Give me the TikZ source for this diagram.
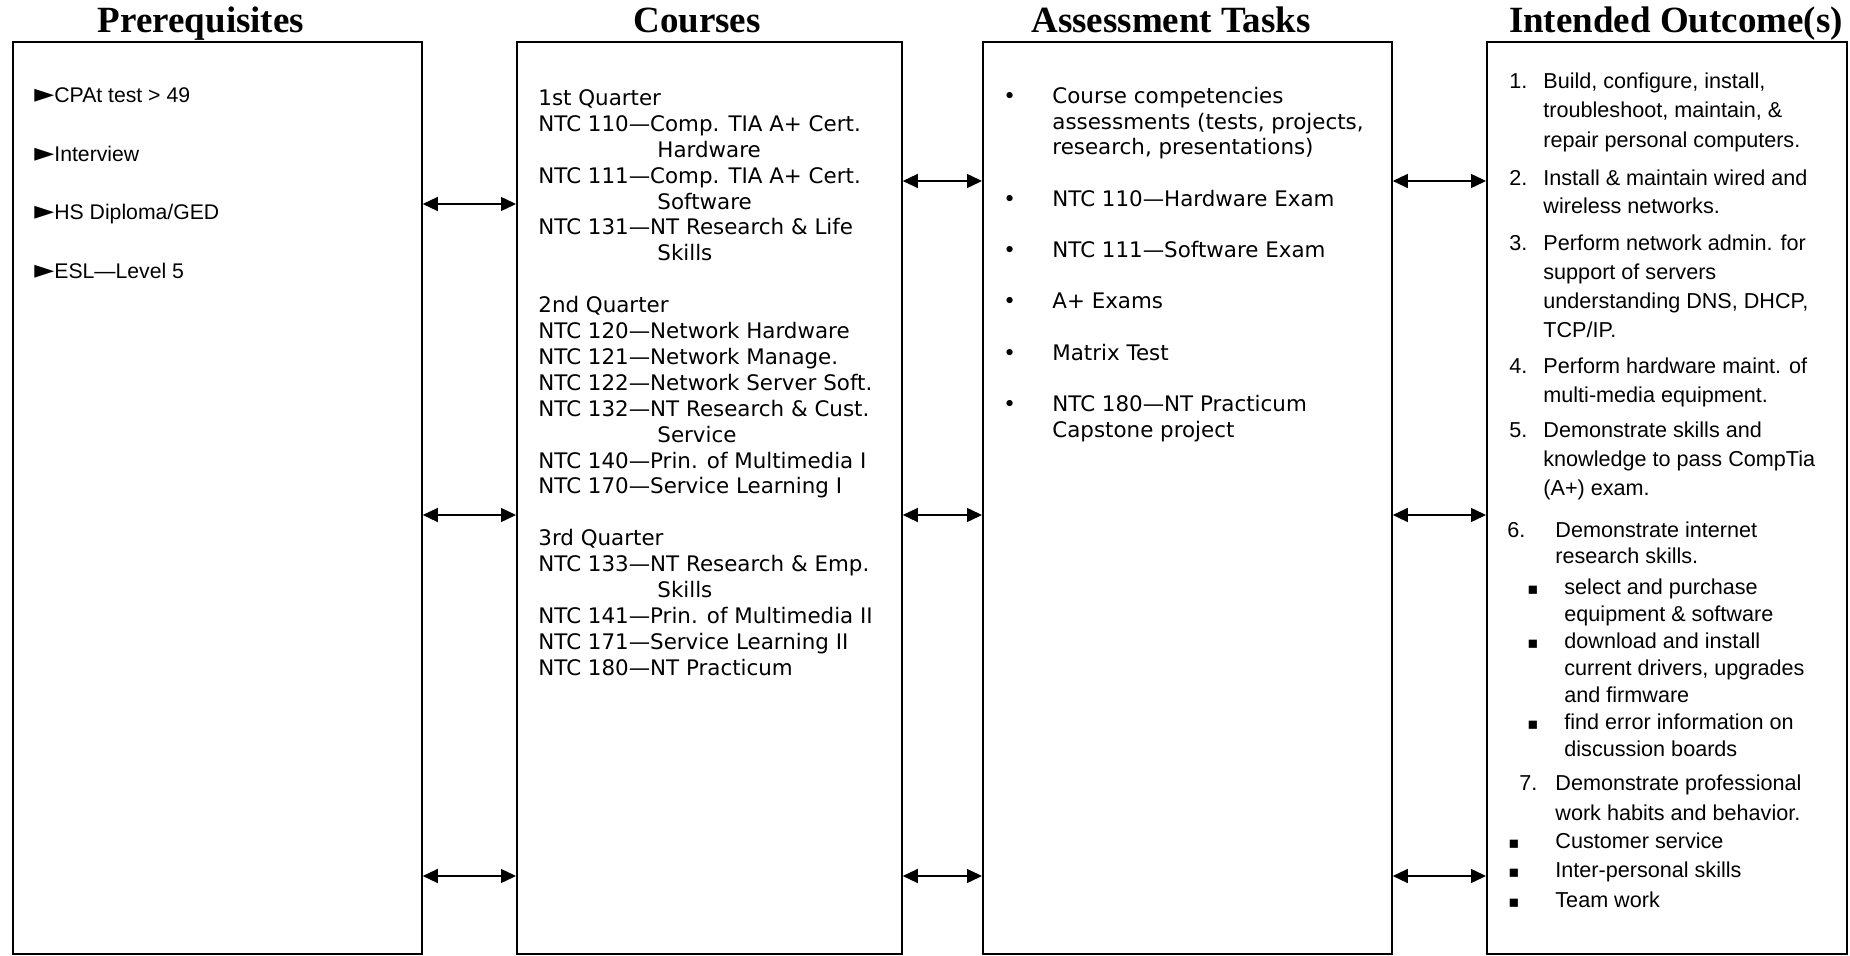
\documentclass[tikz,border=0pt]{standalone}
\usepackage{fontspec}
\setmainfont{Liberation Serif}
\newfontfamily\listfont{Liberation Sans}
\newfontfamily\coursefont{DejaVu Sans}
\usetikzlibrary{arrows.meta}

\newcommand\fl{\rule{0pt}{10pt}}
\newcommand\ind[1]{\hspace*{#1}}
\newcommand\outfont[1]{\listfont\fontsize{10.8}{#1}\selectfont}
\newcommand\pt{{\coursefont\fontsize{13}{13}\selectfont ►}}
\newcommand\sq{{\coursefont\fontsize{8.2}{8.2}\selectfont ▪}}

\tikzset{
  box/.style={draw, line width=0.9pt, inner sep=0pt, anchor=north west},
  title/.style={anchor=base, font=\fontsize{18.5}{22}\selectfont\bfseries},
  txt/.style={anchor=north west, inner sep=0pt, align=left},
  link/.style={{Triangle[length=7.5pt,width=7pt]}-{Triangle[length=7.5pt,width=7pt]}, line width=0.7pt}
}

\begin{document}
\begin{tikzpicture}[x=0.5pt,y=-0.5pt]
  \useasboundingbox (0,0) rectangle (1850,956);
  % columns
  \node[box, minimum width=204.5pt, minimum height=456pt] (pre) at (12,41) {};
  \node[box, minimum width=192.5pt, minimum height=456pt] (crs) at (516,41) {};
  \node[box, minimum width=204.5pt, minimum height=456pt] (ass) at (982,41) {};
  \node[box, minimum width=180pt, minimum height=456pt] (out) at (1486,41) {};

  \node[title] (tpre) at (201,33) {Prerequisites};
  \node[title] (tcrs) at (697,33) {Courses};
  \node[title] (tass) at (1171,33) {Assessment Tasks};
  \node[title] (tout) at (1676,33) {Intended Outcome(s)};

  % arrows between the columns
  \draw[link] (pre.east |- 0,204) -- (crs.west |- 0,204);
  \draw[link] (crs.east |- 0,181) -- (ass.west |- 0,181);
  \draw[link] (ass.east |- 0,181) -- (out.west |- 0,181);
  \foreach \y in {515,876} {
    \draw[link] (pre.east |- 0,\y) -- (crs.west |- 0,\y);
    \draw[link] (crs.east |- 0,\y) -- (ass.west |- 0,\y);
    \draw[link] (ass.east |- 0,\y) -- (out.west |- 0,\y);
  }

  \node[txt, font=\listfont\fontsize{10.6}{29.35}\selectfont] (prelist) at (34,82)
    {\fl\pt CPAt test > 49\\\pt Interview\\\pt HS Diploma/GED\\\pt ESL—Level 5};

  \node[txt, font=\coursefont\fontsize{10.7}{12.95}\selectfont] (crslist) at (538,85)
    {\fl 1st Quarter\\
     NTC 110—Comp. TIA A+ Cert.\\ \ind{59.5pt}Hardware\\
     NTC 111—Comp. TIA A+ Cert.\\ \ind{59.5pt}Software\\
     NTC 131—NT Research \& Life\\ \ind{59.5pt}Skills\\[12.95pt]
     2nd Quarter\\
     NTC 120—Network Hardware\\
     NTC 121—Network Manage.\\
     NTC 122—Network Server Soft.\\
     NTC 132—NT Research \& Cust.\\ \ind{59.5pt}Service\\
     NTC 140—Prin. of Multimedia I\\
     NTC 170—Service Learning I\\[12.95pt]
     3rd Quarter\\
     NTC 133—NT Research \& Emp.\\ \ind{59.5pt}Skills\\
     NTC 141—Prin. of Multimedia II\\
     NTC 171—Service Learning II\\
     NTC 180—NT Practicum};

  \node[txt, font=\coursefont\fontsize{10.7}{12.85}\selectfont] (asslist) at (1003,83)
    {\fl\makebox[24.5pt][l]{•}Course competencies\\
     \ind{24.5pt}assessments (tests, projects,\\
     \ind{24.5pt}research, presentations)\\[12.85pt]
     \makebox[24.5pt][l]{•}NTC 110—Hardware Exam\\[12.85pt]
     \makebox[24.5pt][l]{•}NTC 111—Software Exam\\[12.85pt]
     \makebox[24.5pt][l]{•}A+ Exams\\[12.85pt]
     \makebox[24.5pt][l]{•}Matrix Test\\[12.85pt]
     \makebox[24.5pt][l]{•}NTC 180—NT Practicum\\
     \ind{24.5pt}Capstone project};

  \node[txt, font=\outfont{14.75}] (o1) at (1509,68)
    {\fl\makebox[17pt][l]{1.}Build, configure, install,\\
     \ind{17pt}troubleshoot, maintain, \&\\
     \ind{17pt}repair personal computers.};
  \node[txt, font=\outfont{14}] (o2) at (1509,165)
    {\fl\makebox[17pt][l]{2.}Install \& maintain wired and\\
     \ind{17pt}wireless networks.};
  \node[txt, font=\outfont{14.5}] (o3) at (1509,230)
    {\fl\makebox[17pt][l]{3.}Perform network admin. for\\
     \ind{17pt}support of servers\\
     \ind{17pt}understanding DNS, DHCP,\\
     \ind{17pt}TCP/IP.};
  \node[txt, font=\outfont{14.5}] (o4) at (1509,353)
    {\fl\makebox[17pt][l]{4.}Perform hardware maint. of\\
     \ind{17pt}multi-media equipment.};
  \node[txt, font=\outfont{14.5}] (o5) at (1509,417)
    {\fl\makebox[17pt][l]{5.}Demonstrate skills and\\
     \ind{17pt}knowledge to pass CompTia\\
     \ind{17pt}(A+) exam.};
  \node[txt, font=\outfont{13}] (o6) at (1507,517)
    {\fl\makebox[24pt][l]{6.}Demonstrate internet\\
     \ind{24pt}research skills.};
  \node[txt, font=\outfont{13.5}] (o6sub) at (1527,574)
    {\fl\makebox[18.5pt][l]{\sq}select and purchase\\
     \ind{18.5pt}equipment \& software\\
     \makebox[18.5pt][l]{\sq}download and install\\
     \ind{18.5pt}current drivers, upgrades\\
     \ind{18.5pt}and firmware\\
     \makebox[18.5pt][l]{\sq}find error information on\\
     \ind{18.5pt}discussion boards};
  \node[txt, font=\outfont{15}] (o7) at (1519,770)
    {\fl\makebox[18pt][l]{7.}Demonstrate professional\\
     \ind{18pt}work habits and behavior.};
  \node[txt, font=\outfont{14.75}] (o7sub) at (1508,828)
    {\fl\makebox[23.5pt][l]{\sq}Customer service\\
     \makebox[23.5pt][l]{\sq}Inter-personal skills\\
     \makebox[23.5pt][l]{\sq}Team work};
\end{tikzpicture}
\end{document}
